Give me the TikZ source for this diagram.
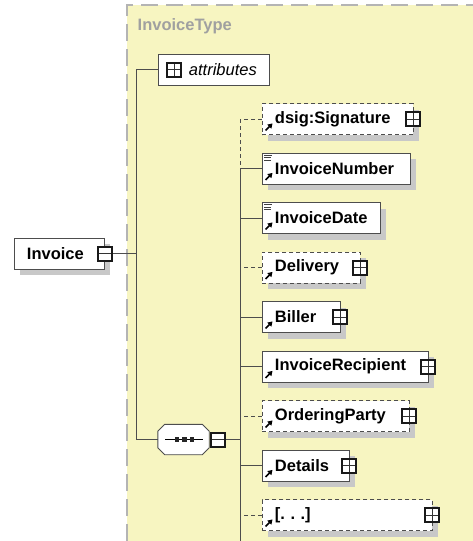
\documentclass[tikz,border=0pt]{standalone}
\usepackage{fontspec}
\setmainfont{Liberation Sans}
\usetikzlibrary{shadows,arrows.meta}
\definecolor{bgyellow}{RGB}{247,245,193}
\definecolor{framegray}{RGB}{180,180,180}
\definecolor{shadowgray}{RGB}{200,200,200}
\definecolor{boxline}{RGB}{77,77,77}
\definecolor{typegray}{RGB}{160,160,160}
\tikzset{
  elembox/.style={rectangle, draw=boxline, line width=0.9pt, fill=white,
    minimum height=31pt, inner xsep=12.5pt, inner ysep=0pt, anchor=west,
    align=left, font=\fontsize{16.5}{18}\selectfont\bfseries,
    drop shadow={shadow xshift=6pt, shadow yshift=-6pt, fill=shadowgray, opacity=1}},
  optional/.style={dash pattern=on 4pt off 3pt},
  iconbox/.style={rectangle, draw=black!90, line width=2pt, fill=white,
    minimum size=14pt, inner sep=0pt},
  plusbox/.style={iconbox, path picture={\draw[line width=0.7pt, black!80]
    (path picture bounding box.north) -- (path picture bounding box.south)
    (path picture bounding box.west) -- (path picture bounding box.east);}},
  minusbox/.style={iconbox, path picture={\draw[line width=0.7pt, black!80]
    (path picture bounding box.west) -- (path picture bounding box.east);}},
  conn/.style={draw=boxline, line width=0.9pt},
  refarrow/.style={line width=1.7pt, black, -{Triangle[length=4.5pt,width=5.5pt]}},
}
\newcommand{\refmark}[1]{\draw[refarrow] ([shift={(3.5,-4.5)}]#1.south west) -- ([shift={(10.5,-11.5)}]#1.south west);}
\newcommand{\simplemark}[1]{\draw[line width=0.6pt, black!75]
  ([shift={(2,2.5)}]#1.north west) -- ([shift={(10,2.5)}]#1.north west)
  ([shift={(2,5)}]#1.north west) -- ([shift={(9,5)}]#1.north west)
  ([shift={(2,7.5)}]#1.north west) -- ([shift={(9,7.5)}]#1.north west);}
\begin{document}
\begin{tikzpicture}[x=1pt, y=-1pt]
\useasboundingbox (0,0) rectangle (473,541);
% complex type area
\fill[bgyellow] (127,5) rectangle (473,541);
\draw[framegray, line width=1.5pt, dash pattern=on 17pt off 8pt] (127,541) -- (127,5) -- (473,5);
\node[anchor=base west, text=typegray, font=\fontsize{16.5}{18}\selectfont\bfseries, inner sep=0pt] (typelabel) at (137.5,30.5) {InvoiceType};

% attributes
\node[rectangle, draw=boxline, line width=0.9pt, fill=white, anchor=west, minimum height=31pt,
  text width=111pt, inner xsep=0pt, inner ysep=0pt, align=left,
  font=\fontsize{16.5}{18}\selectfont\itshape] (attr) at (158,69.5) {\noindent\hspace*{30.5pt}attributes};
\node[plusbox] (attrplus) at (174,69.5) {};

% root element
\node[elembox, text width=65pt] (inv) at (14,253.5) {Invoice};
\node[minusbox] (invminus) at (inv.east) {};

% sequence compositor
\node[rectangle, minimum width=51pt, minimum height=30pt, inner sep=0pt] (seq) at (183.5,439.5) {};
\fill[shadowgray, shift={(6,6)}]
  ([xshift=7pt]seq.north west) -- ([xshift=-7pt]seq.north east) -- ([yshift=-7pt]seq.north east)
  -- ([yshift=7pt]seq.south east) -- ([xshift=-7pt]seq.south east) -- ([xshift=7pt]seq.south west)
  -- ([yshift=7pt]seq.south west) -- ([yshift=-7pt]seq.north west) -- cycle;
\draw[boxline, line width=0.9pt, fill=white]
  ([xshift=7pt]seq.north west) -- ([xshift=-7pt]seq.north east) -- ([yshift=-7pt]seq.north east)
  -- ([yshift=7pt]seq.south east) -- ([xshift=-7pt]seq.south east) -- ([xshift=7pt]seq.south west)
  -- ([yshift=7pt]seq.south west) -- ([yshift=-7pt]seq.north west) -- cycle;
\draw[line width=0.7pt, black] ([xshift=-18.5pt]seq.center) -- ([xshift=19.5pt]seq.center);
\foreach \dx in {-6.5,1,8.5} {\fill[black!85] ([shift={(\dx-2.3,-2.3)}]seq.center) rectangle ([shift={(\dx+2.3,2.3)}]seq.center);}
\node[minusbox, anchor=west] (seqminus) at ([xshift=1pt]seq.east) {};

% child elements
\node[elembox, optional, text width=126pt] (sig) at (262,119) {dsig:Signature};
\node[elembox, text width=123pt] (num) at (262,168.5) {InvoiceNumber};
\node[elembox, text width=93pt] (date) at (262,218) {InvoiceDate};
\node[elembox, optional, text width=73pt] (deliv) at (262,267.5) {Delivery};
\node[elembox, text width=53pt] (biller) at (262,317) {Biller};
\node[elembox, text width=141pt] (recip) at (262,366.5) {InvoiceRecipient};
\node[elembox, optional, text width=122pt] (order) at (262,416) {OrderingParty};
\node[elembox, text width=62pt] (details) at (262,465.5) {Details};
\node[elembox, optional, text width=145pt] (more) at (262,515) {[.\ .\ .]};

\foreach \n in {sig,deliv,biller,recip,order,details,more} {\node[plusbox] (\n plus) at ([xshift=-1pt]\n.east) {};}
\foreach \n in {sig,num,date,deliv,biller,recip,order,details,more} {\refmark{\n}}
\simplemark{num}
\simplemark{date}

% connectors
\coordinate (lb) at (136,0);
\coordinate (rb) at (240,0);
\coordinate (rbend) at (240,541);
\draw[conn] (attr.west) -- (attr.west -| lb) -- (seq.west -| lb) -- (seq.west);
\draw[conn] (invminus.east) -- (invminus.east -| lb);
\draw[conn] (seqminus.east) -- (seqminus.east -| rb);
\draw[conn, optional] (sig.west -| rb) -- (num.west -| rb);
\draw[conn] (num.west -| rb) -- (rbend);
\foreach \n in {sig,deliv,order,more} {\draw[conn, optional] (\n.west) -- (\n.west -| rb);}
\foreach \n in {num,date,biller,recip,details} {\draw[conn] (\n.west) -- (\n.west -| rb);}
\end{tikzpicture}
\end{document}
